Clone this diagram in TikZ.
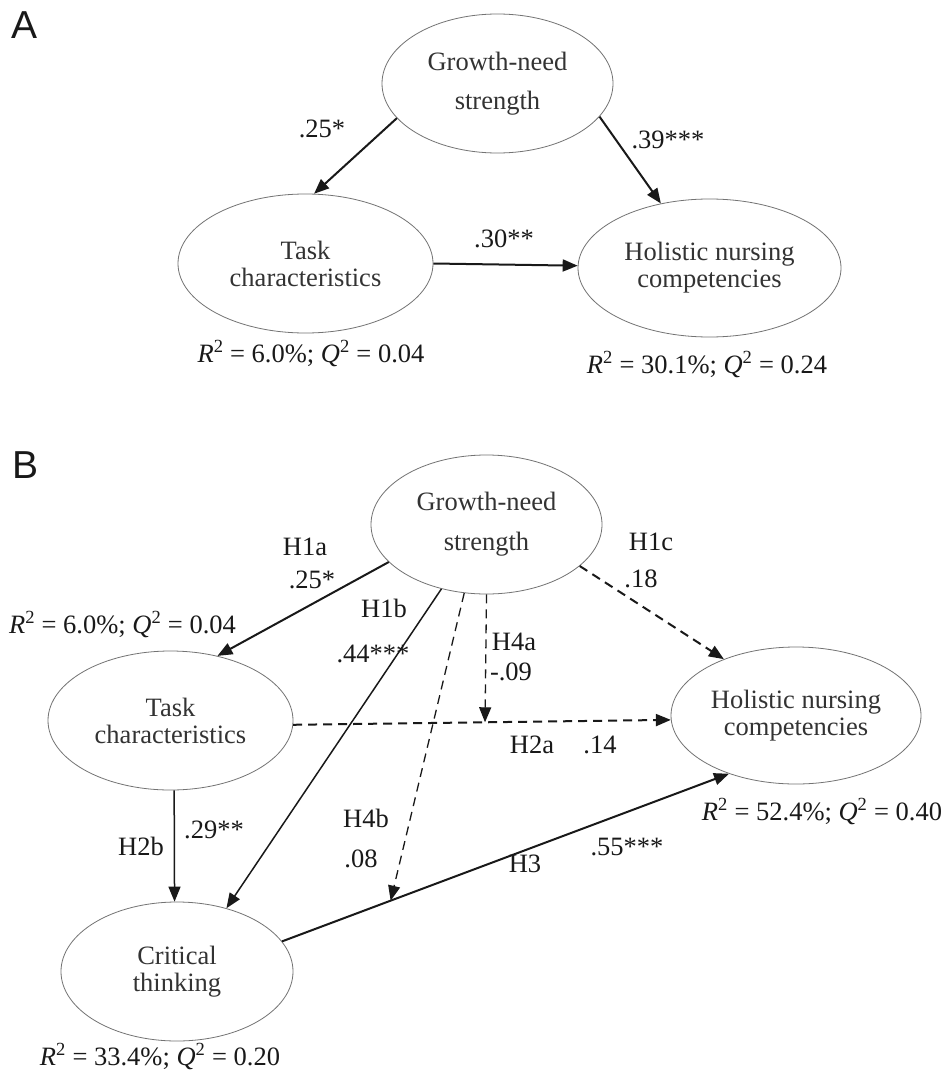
\documentclass[tikz,border=0pt]{standalone}
\usepackage{fontspec}
\setmainfont{Liberation Serif}
\newfontfamily\panelfont{Liberation Sans}
\usetikzlibrary{arrows.meta,shapes.geometric}
\begin{document}
\begin{tikzpicture}[x=1pt,y=-1pt,
  lv/.style={draw=black!55, line width=0.8pt, ellipse, inner sep=0pt, text=black!80, align=center, font=\fontsize{26.5}{27}\selectfont},
  lbl/.style={anchor=base, text=black!90, inner sep=0pt, font=\fontsize{26.5}{27}\selectfont},
  panel/.style={anchor=base west, inner sep=0pt, text=black!90, font=\panelfont\fontsize{39}{40}\selectfont},
  tip/.style={-{Triangle[length=15pt,width=12pt]}},
  solidA/.style={tip, line width=2pt, draw=black!90},
  solidB/.style={tip, line width=1.5pt, draw=black!90},
  dashA/.style={tip, line width=2pt, draw=black!90, dash pattern=on 9pt off 6pt},
  dashB/.style={tip, line width=1.3pt, draw=black!90, dash pattern=on 9pt off 6pt},
]
\useasboundingbox (0,0) rectangle (943,1073);
\fill[white] (0,0) rectangle (943,1073);

% ---------- Panel A ----------
\node[panel] (labA) at (11,38) {A};
\node[lv, minimum width=231pt, minimum height=139pt, font=\fontsize{26.5}{39}\selectfont] (gnA) at (497.5,83.5) {Growth-need\\strength};
\node[lv, minimum width=255pt, minimum height=139pt] (tcA) at (305.5,263.5) {Task\\characteristics};
\node[lv, minimum width=263pt, minimum height=138pt] (hnA) at (709.5,268) {Holistic nursing\\competencies};

\draw[solidA] (gnA.-161.9) -- (tcA.83.9);
\draw[solidA] (gnA.-18.1) -- (hnA.127.1);
\draw[solidA] (tcA.0.7) -- (hnA.179.1);

\node[lbl] (a25) at (322,137) {.25*};
\node[lbl] (a39) at (668,148) {.39***};
\node[lbl] (a30) at (504,247) {.30**};
\node[lbl] (aR1) at (311,362) {\textit{R}\textsuperscript{2} = 6.0\%; \textit{Q}\textsuperscript{2} = 0.04};
\node[lbl] (aR2) at (707,373) {\textit{R}\textsuperscript{2} = 30.1\%; \textit{Q}\textsuperscript{2} = 0.24};

% ---------- Panel B ----------
\node[panel] (labB) at (12,478) {B};
\node[lv, minimum width=231pt, minimum height=139pt, font=\fontsize{26.5}{40}\selectfont] (gnB) at (486.5,524.5) {Growth-need\\strength};
\node[lv, minimum width=245pt, minimum height=139pt] (tcB) at (170.5,720.5) {Task\\characteristics};
\node[lv, minimum width=232pt, minimum height=139pt] (ctB) at (177,971.5) {Critical\\thinking};
\node[lv, minimum width=250pt, minimum height=137pt] (hnB) at (796,715.5) {Holistic nursing\\competencies};

% H2a with midpoint for H4a
\draw[dashA] (tcB.-2.6) -- coordinate[pos=0.508] (h4aend) (hnB.-178.8);
% H3 with point for H4b
\draw[solidA] (ctB.16.7) -- coordinate[pos=0.243] (h4bend) (hnB.-139.6);
% H1a
\draw[solidA] (gnB.-159.2) -- (tcB.54.9);
% H1b
\draw[solidB] (gnB.-125.2) -- (ctB.52.2);
% H1c
\draw[dashA] (gnB.-24.9) -- (hnB.142);
% H2b
\draw[solidB] (tcB.-87.9) -- (ctB.92.5);
% H4a
\draw[dashB] (gnB.-90) -- (h4aend);
% H4b
\draw[dashB] (gnB.-108.9) -- (h4bend);

\node[lbl] (bH1a) at (305,555) {H1a};
\node[lbl] (b25) at (312,588) {.25*};
\node[lbl] (bH1b) at (384,617) {H1b};
\node[lbl] (b44) at (373,662) {.44***};
\node[lbl] (bH1c) at (651,550) {H1c};
\node[lbl] (b18) at (641,587) {.18};
\node[lbl] (bH4a) at (514,650) {H4a};
\node[lbl] (b09) at (511,680) {-.09};
\node[lbl] (bH2a) at (532,753) {H2a};
\node[lbl] (b14) at (600,753) {.14};
\node[lbl] (bH2b) at (141,855) {H2b};
\node[lbl] (b29) at (214,838) {.29**};
\node[lbl] (bH4b) at (366,827) {H4b};
\node[lbl] (b08) at (361,867) {.08};
\node[lbl] (bH3) at (525,872) {H3};
\node[lbl] (b55) at (627,855) {.55***};
\node[lbl] (bR1) at (122.5,633) {\textit{R}\textsuperscript{2} = 6.0\%; \textit{Q}\textsuperscript{2} = 0.04};
\node[lbl] (bR2) at (822,820) {\textit{R}\textsuperscript{2} = 52.4\%; \textit{Q}\textsuperscript{2} = 0.40};
\node[lbl] (bR3) at (160,1065) {\textit{R}\textsuperscript{2} = 33.4\%; \textit{Q}\textsuperscript{2} = 0.20};
\end{tikzpicture}
\end{document}
